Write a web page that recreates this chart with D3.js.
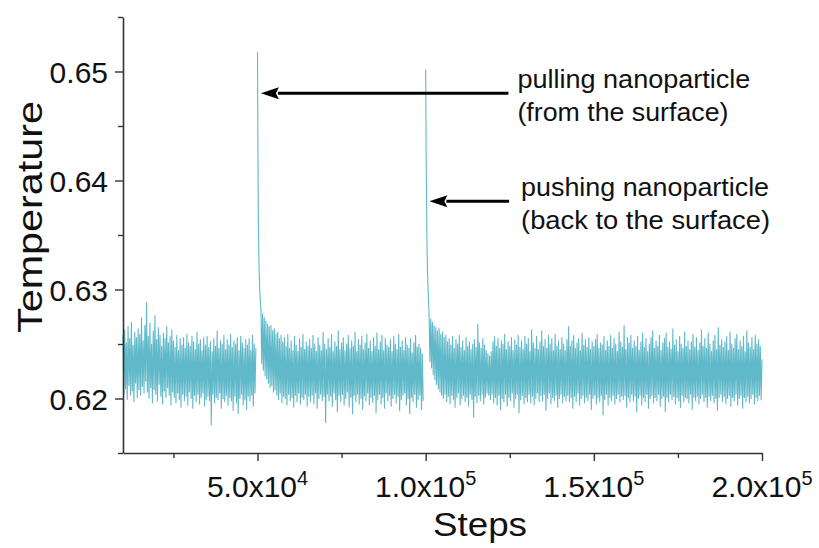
<!DOCTYPE html>
<html>
<head>
<meta charset="utf-8">
<script src="https://cdn.jsdelivr.net/npm/d3@7"></script>
<style>
  html, body { margin: 0; padding: 0; background: #fff; }
  svg { display: block; }
  text { font-family: "Liberation Sans", Arial, sans-serif; fill: #111; }
</style>
</head>
<body>
<svg id="chart" width="819" height="548"></svg>
<script>
// Temperature trace, sampled every 250 steps
const sampleInterval = 250;

// Equilibrated run before pulling
const seg1Start = 10000;
const seg1Temps = [
  0.6258, 0.6204, 0.6263, 0.6209, 0.6251, 0.6199, 0.6266, 0.6212, 0.6255, 0.6203,
  0.6270, 0.6207, 0.6249, 0.6197, 0.6261, 0.6214, 0.6256, 0.6201, 0.6264, 0.6208,
  0.6259, 0.6203, 0.6274, 0.6211, 0.6253, 0.6205, 0.6267, 0.6216, 0.6288, 0.6206,
  0.6257, 0.6200, 0.6269, 0.6210, 0.6250, 0.6196, 0.6262, 0.6208, 0.6276, 0.6204,
  0.6254, 0.6198, 0.6265, 0.6213, 0.6258, 0.6202, 0.6248, 0.6195, 0.6260, 0.6207,
  0.6255, 0.6201, 0.6266, 0.6210, 0.6251, 0.6203, 0.6257, 0.6194, 0.6263, 0.6206,
  0.6253, 0.6201, 0.6247, 0.6196, 0.6258, 0.6205, 0.6244, 0.6199, 0.6255, 0.6192,
  0.6249, 0.6204, 0.6256, 0.6198, 0.6246, 0.6202, 0.6259, 0.6194, 0.6251, 0.6206,
  0.6248, 0.6200, 0.6257, 0.6191, 0.6252, 0.6203, 0.6245, 0.6197, 0.6261, 0.6204,
  0.6250, 0.6195, 0.6254, 0.6201, 0.6244, 0.6205, 0.6256, 0.6193, 0.6249, 0.6199,
  0.6257, 0.6202, 0.6247, 0.6198, 0.6252, 0.6176, 0.6243, 0.6204, 0.6255, 0.6196,
  0.6248, 0.6201, 0.6262, 0.6199, 0.6246, 0.6205, 0.6253, 0.6191, 0.6250, 0.6200,
  0.6258, 0.6197, 0.6245, 0.6203, 0.6254, 0.6194, 0.6249, 0.6201, 0.6259, 0.6198,
  0.6247, 0.6189, 0.6253, 0.6202, 0.6250, 0.6196, 0.6256, 0.6186, 0.6244, 0.6200,
  0.6257, 0.6204, 0.6251, 0.6194, 0.6246, 0.6199, 0.6254, 0.6190, 0.6249, 0.6202,
  0.6255, 0.6198, 0.6244, 0.6203, 0.6258, 0.6193, 0.6250, 0.6205, 0.6246
];

// Heating spike when the nanoparticle is pulled
const spike1Steps = [50000, 50100, 50250, 50450, 50700];
const spike1Temps = [0.6518, 0.6440, 0.6360, 0.6320, 0.6296];

const seg2Start = 51000;
const seg2Temps = [
  0.6282, 0.6232, 0.6278, 0.6226, 0.6274, 0.6221, 0.6271, 0.6218, 0.6268, 0.6214,
  0.6266, 0.6210, 0.6267, 0.6212, 0.6262, 0.6206, 0.6264, 0.6208, 0.6259, 0.6203,
  0.6261, 0.6199, 0.6255, 0.6205, 0.6258, 0.6196, 0.6252, 0.6202, 0.6256, 0.6200,
  0.6248, 0.6194, 0.6259, 0.6204, 0.6246, 0.6198, 0.6253, 0.6201, 0.6244, 0.6192,
  0.6257, 0.6203, 0.6249, 0.6197, 0.6243, 0.6205, 0.6255, 0.6195, 0.6247, 0.6201,
  0.6259, 0.6199, 0.6245, 0.6204, 0.6252, 0.6193, 0.6248, 0.6202, 0.6254, 0.6197,
  0.6246, 0.6203, 0.6258, 0.6195, 0.6250, 0.6205, 0.6243, 0.6191, 0.6256, 0.6200,
  0.6249, 0.6204, 0.6244, 0.6198, 0.6261, 0.6202, 0.6250, 0.6178, 0.6245, 0.6204,
  0.6255, 0.6198, 0.6247, 0.6202, 0.6259, 0.6193, 0.6243, 0.6205, 0.6252, 0.6199,
  0.6248, 0.6188, 0.6262, 0.6203, 0.6245, 0.6197, 0.6251, 0.6204, 0.6256, 0.6194,
  0.6244, 0.6200, 0.6250, 0.6206, 0.6258, 0.6192, 0.6246, 0.6201, 0.6253, 0.6186,
  0.6248, 0.6203, 0.6261, 0.6197, 0.6243, 0.6204, 0.6254, 0.6195, 0.6249, 0.6200,
  0.6257, 0.6190, 0.6245, 0.6202, 0.6251, 0.6198, 0.6259, 0.6205, 0.6246, 0.6194,
  0.6253, 0.6201, 0.6243, 0.6196, 0.6256, 0.6203, 0.6248, 0.6187, 0.6260, 0.6199,
  0.6245, 0.6204, 0.6252, 0.6195, 0.6258, 0.6201, 0.6244, 0.6191, 0.6255, 0.6205,
  0.6249, 0.6198, 0.6247, 0.6203, 0.6254, 0.6193, 0.6243, 0.6200, 0.6257, 0.6204,
  0.6250, 0.6196, 0.6245, 0.6202, 0.6259, 0.6189, 0.6247, 0.6199, 0.6253, 0.6203,
  0.6244, 0.6205, 0.6256, 0.6194, 0.6249, 0.6200, 0.6246, 0.6186, 0.6255, 0.6201,
  0.6242, 0.6197, 0.6251, 0.6204, 0.6258, 0.6192, 0.6247, 0.6199, 0.6250, 0.6203,
  0.6246, 0.6190, 0.6241, 0.6198
];

// Heating spike when the nanoparticle is pushed back
const spike2Steps = [100000, 100150, 100350, 100550, 100800];
const spike2Temps = [0.6502, 0.6420, 0.6350, 0.6315, 0.6292];

const seg3Start = 101000;
const seg3Temps = [
  0.6278, 0.6234, 0.6273, 0.6228, 0.6270, 0.6222, 0.6267, 0.6217, 0.6265, 0.6213,
  0.6262, 0.6209, 0.6264, 0.6206, 0.6259, 0.6203, 0.6261, 0.6200, 0.6256, 0.6204,
  0.6258, 0.6197, 0.6252, 0.6202, 0.6255, 0.6195, 0.6249, 0.6203, 0.6257, 0.6199,
  0.6246, 0.6192, 0.6254, 0.6201, 0.6250, 0.6205, 0.6258, 0.6194, 0.6247, 0.6200,
  0.6253, 0.6203, 0.6244, 0.6197, 0.6256, 0.6201, 0.6248, 0.6193, 0.6252, 0.6204,
  0.6245, 0.6199, 0.6250, 0.6183, 0.6254, 0.6202, 0.6247, 0.6196, 0.6268, 0.6203,
  0.6251, 0.6198, 0.6246, 0.6204, 0.6255, 0.6195, 0.6249, 0.6201, 0.6244, 0.6205,
  0.6241, 0.6203, 0.6239, 0.6199, 0.6243, 0.6204, 0.6252, 0.6196, 0.6257, 0.6201,
  0.6248, 0.6194, 0.6255, 0.6203, 0.6246, 0.6190, 0.6253, 0.6200, 0.6250, 0.6197,
  0.6259, 0.6204, 0.6245, 0.6193, 0.6252, 0.6201, 0.6248, 0.6198, 0.6256, 0.6205,
  0.6244, 0.6192, 0.6254, 0.6200, 0.6249, 0.6204, 0.6258, 0.6187, 0.6247, 0.6199,
  0.6253, 0.6203, 0.6245, 0.6195, 0.6257, 0.6201, 0.6250, 0.6197, 0.6255, 0.6204,
  0.6243, 0.6196, 0.6263, 0.6202, 0.6251, 0.6194, 0.6246, 0.6200, 0.6257, 0.6205,
  0.6245, 0.6197, 0.6252, 0.6203, 0.6262, 0.6198, 0.6248, 0.6204, 0.6254, 0.6189,
  0.6246, 0.6200, 0.6258, 0.6205, 0.6250, 0.6195, 0.6255, 0.6201, 0.6244, 0.6198,
  0.6259, 0.6203, 0.6248, 0.6192, 0.6253, 0.6200, 0.6245, 0.6204, 0.6256, 0.6196,
  0.6250, 0.6202, 0.6244, 0.6198, 0.6254, 0.6203, 0.6266, 0.6197, 0.6248, 0.6201,
  0.6253, 0.6191, 0.6258, 0.6202, 0.6246, 0.6197, 0.6251, 0.6205, 0.6255, 0.6194,
  0.6244, 0.6200, 0.6260, 0.6203, 0.6249, 0.6196, 0.6254, 0.6201, 0.6247, 0.6198,
  0.6256, 0.6204, 0.6245, 0.6190, 0.6252, 0.6200, 0.6248, 0.6203, 0.6254, 0.6195,
  0.6259, 0.6201, 0.6246, 0.6197, 0.6251, 0.6203, 0.6249, 0.6185, 0.6257, 0.6199,
  0.6244, 0.6204, 0.6253, 0.6194, 0.6248, 0.6201, 0.6258, 0.6198, 0.6246, 0.6203,
  0.6255, 0.6195, 0.6250, 0.6200, 0.6243, 0.6204, 0.6261, 0.6197, 0.6252, 0.6202,
  0.6247, 0.6199, 0.6267, 0.6203, 0.6245, 0.6192, 0.6256, 0.6201, 0.6251, 0.6197,
  0.6258, 0.6204, 0.6246, 0.6198, 0.6253, 0.6202, 0.6248, 0.6188, 0.6257, 0.6200,
  0.6244, 0.6203, 0.6252, 0.6194, 0.6260, 0.6201, 0.6247, 0.6197, 0.6255, 0.6204,
  0.6243, 0.6191, 0.6250, 0.6200, 0.6256, 0.6203, 0.6262, 0.6196, 0.6246, 0.6201,
  0.6253, 0.6198, 0.6248, 0.6204, 0.6258, 0.6193, 0.6244, 0.6200, 0.6251, 0.6202,
  0.6255, 0.6188, 0.6260, 0.6201, 0.6247, 0.6197, 0.6252, 0.6204, 0.6245, 0.6199,
  0.6264, 0.6202, 0.6249, 0.6195, 0.6254, 0.6201, 0.6243, 0.6198, 0.6257, 0.6192,
  0.6250, 0.6203, 0.6246, 0.6197, 0.6261, 0.6201, 0.6248, 0.6200, 0.6253, 0.6196,
  0.6245, 0.6204, 0.6252, 0.6190, 0.6259, 0.6201, 0.6247, 0.6198, 0.6256, 0.6202,
  0.6244, 0.6195, 0.6251, 0.6200, 0.6263, 0.6204, 0.6248, 0.6197, 0.6255, 0.6201,
  0.6246, 0.6192, 0.6260, 0.6202, 0.6250, 0.6198, 0.6243, 0.6203, 0.6253, 0.6196,
  0.6258, 0.6200, 0.6245, 0.6189, 0.6265, 0.6201, 0.6249, 0.6204, 0.6254, 0.6197,
  0.6247, 0.6202, 0.6252, 0.6195, 0.6257, 0.6200, 0.6244, 0.6203, 0.6261, 0.6193,
  0.6250, 0.6201, 0.6246, 0.6198, 0.6255, 0.6204, 0.6259, 0.6194, 0.6245, 0.6200,
  0.6253, 0.6203, 0.6248, 0.6191, 0.6257, 0.6201, 0.6243, 0.6197, 0.6262, 0.6202,
  0.6251, 0.6196, 0.6247, 0.6200, 0.6256, 0.6204, 0.6245, 0.6195, 0.6258, 0.6201,
  0.6250, 0.6198, 0.6254, 0.6203, 0.6248, 0.6199, 0.6236
];

// Axis ticks
const xMajorTicks = [50000, 100000, 150000, 200000];
const xMajorMantissa = ["5.0", "1.0", "1.5", "2.0"];
const xMajorExponent = ["4", "5", "5", "5"];
const xMinorTicks = [25000, 75000, 125000, 175000];
const yMajorTicks = [0.62, 0.63, 0.64, 0.65];
const yTickLabels = ["0.62", "0.63", "0.64", "0.65"];
const yMinorTicks = [0.615, 0.625, 0.635, 0.645, 0.655];

// Annotations: arrow tip (step, temperature), arrow tail step and label widths
const notes = [
  { tipStep: 51000, tipTemp: 0.6480, tailStep: 124600,
    lines: ["pulling nanoparticle", "(from the surface)"], widths: [233, 211], dx: 9 },
  { tipStep: 101100, tipTemp: 0.6381, tailStep: 124800,
    lines: ["pushing nanoparticle", "(back to the surface)"], widths: [248, 249], dx: 12 }
];

const svg = d3.select("#chart");
const x = d3.scaleLinear().domain([10000, 200000]).range([123, 762]);
const y = d3.scaleLinear().domain([0.615, 0.655]).range([453, 17]);

function regular(start, temps) {
  return temps.map((t, i) => ({ step: start + i * sampleInterval, temp: t }));
}
function explicit(steps, temps) {
  return steps.map((s, i) => ({ step: s, temp: temps[i] }));
}

const runs = [
  regular(seg1Start, seg1Temps),
  explicit(spike1Steps, spike1Temps).concat(regular(seg2Start, seg2Temps)),
  explicit(spike2Steps, spike2Temps).concat(regular(seg3Start, seg3Temps))
];

const line = d3.line().x(d => x(d.step)).y(d => y(d.temp));

svg.append("g")
  .selectAll("path")
  .data(runs)
  .join("path")
  .attr("d", line)
  .attr("fill", "none")
  .attr("stroke", "#44adc0")
  .attr("stroke-width", 1.1)
  .attr("stroke-linejoin", "round")
  .attr("stroke-opacity", 0.85);

// Axes
const axisColor = "#333";
const yAxis = svg.append("g").attr("transform", `translate(${x.range()[0]},0)`);
yAxis.call(d3.axisLeft(y).tickValues(yMajorTicks).tickSize(8).tickSizeOuter(0)
  .tickFormat((d, i) => yTickLabels[i]));
yAxis.append("g").call(d3.axisLeft(y).tickValues(yMinorTicks).tickSize(5).tickSizeOuter(0).tickFormat(""))
  .select(".domain").remove();

const xAxis = svg.append("g").attr("transform", `translate(0,${y.range()[0]})`);
xAxis.call(d3.axisBottom(x).tickValues(xMajorTicks).tickSize(8).tickSizeOuter(0).tickFormat(""));
xAxis.append("g").call(d3.axisBottom(x).tickValues(xMinorTicks).tickSize(5).tickSizeOuter(0).tickFormat(""))
  .select(".domain").remove();

svg.selectAll(".domain").attr("stroke", axisColor).attr("stroke-width", 1.6);
svg.selectAll(".tick line").attr("stroke", axisColor).attr("stroke-width", 1.4);

yAxis.selectAll(".tick text")
  .attr("font-size", 30)
  .attr("font-family", "Liberation Sans, Arial, sans-serif")
  .attr("fill", "#111")
  .attr("x", -15)
  .attr("dy", "0.36em");

// Bottom tick labels in a.bx10^n form
const xLabels = svg.append("g");
xMajorTicks.forEach((v, i) => {
  const t = xLabels.append("text")
    .attr("x", x(v))
    .attr("y", y.range()[0] + 44)
    .attr("text-anchor", "middle")
    .attr("font-size", 30);
  t.append("tspan").text(xMajorMantissa[i] + "x10");
  t.append("tspan").attr("font-size", 20).attr("dy", -12).text(xMajorExponent[i]);
});

// Axis titles
svg.append("text")
  .attr("x", 480)
  .attr("y", 536)
  .attr("text-anchor", "middle")
  .attr("font-size", 33)
  .attr("textLength", 94)
  .attr("lengthAdjust", "spacingAndGlyphs")
  .text("Steps");

svg.append("text")
  .attr("transform", "translate(42,217) rotate(-90)")
  .attr("text-anchor", "middle")
  .attr("font-size", 35)
  .attr("textLength", 232)
  .attr("lengthAdjust", "spacingAndGlyphs")
  .text("Temperature");

// Annotation arrows and labels
const ann = svg.append("g");
notes.forEach(n => {
  const tx = x(n.tipStep), ty = y(n.tipTemp), ex = x(n.tailStep);
  const headLen = 18, headHalf = 6;
  ann.append("line")
    .attr("x1", tx + headLen - 1).attr("y1", ty)
    .attr("x2", ex).attr("y2", ty)
    .attr("stroke", "#000").attr("stroke-width", 3);
  ann.append("path")
    .attr("d", `M${tx},${ty}L${tx + headLen},${ty - headHalf}L${tx + headLen - 3},${ty}L${tx + headLen},${ty + headHalf}Z`)
    .attr("fill", "#000");
  const lx = ex + n.dx;
  n.lines.forEach((s, j) => {
    ann.append("text")
      .attr("x", lx)
      .attr("y", ty - 5 + j * 33)
      .attr("font-size", 25)
      .attr("textLength", n.widths[j])
      .attr("lengthAdjust", "spacingAndGlyphs")
      .text(s);
  });
});
</script>
</body>
</html>
